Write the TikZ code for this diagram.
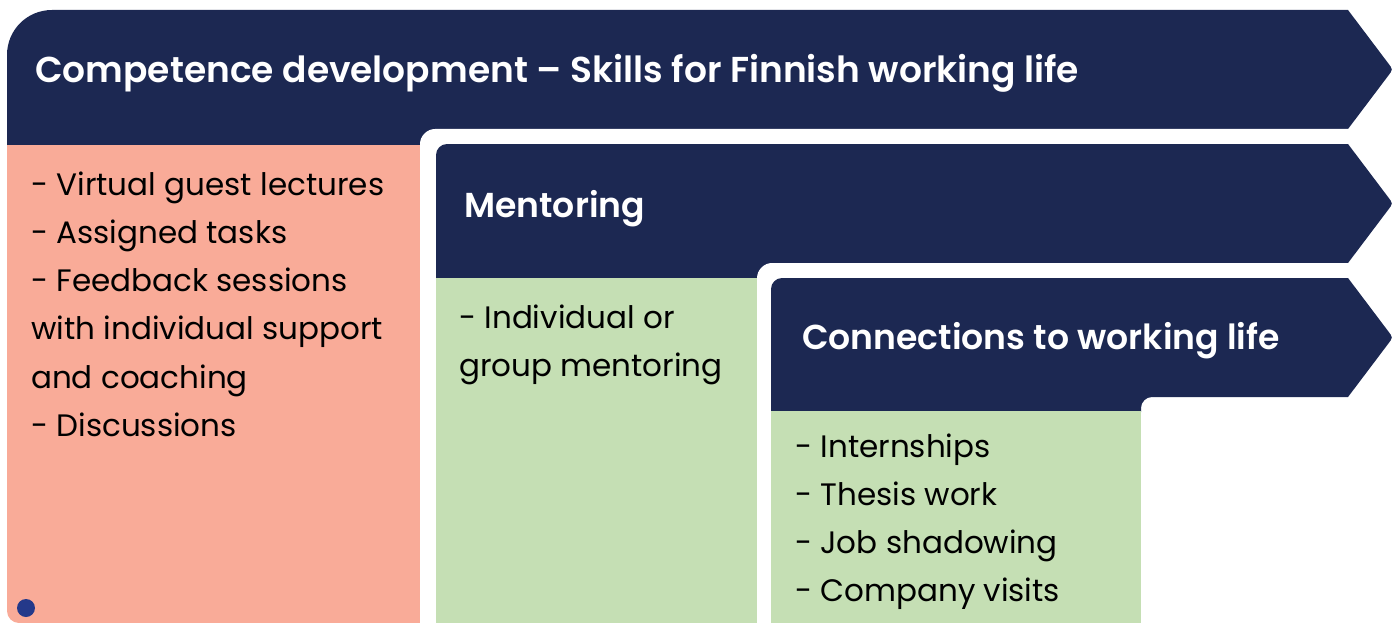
\documentclass[tikz,border=0pt]{standalone}
\usepackage{fontspec}
\setmainfont{Poppins}
\IfFontExistsTF{Poppins SemiBold}{\newfontfamily\headfont{Poppins SemiBold}}{\newcommand\headfont{\bfseries}}
\definecolor{navy}{RGB}{28,40,82}
\definecolor{salmon}{RGB}{249,171,152}
\definecolor{leaf}{RGB}{197,223,180}
\definecolor{dotblue}{RGB}{36,57,138}
\begin{document}
\begin{tikzpicture}[x=1pt,y=-1pt,
  head/.style={anchor=base west, inner sep=0pt, text=white, font=\fontsize{36}{40}\selectfont\headfont},
  subhead/.style={head, font=\fontsize{34.6}{40}\selectfont\headfont},
  body/.style={anchor=base west, inner sep=0pt, align=left, text=black, font=\fontsize{31}{48.3}\selectfont}]
\useasboundingbox (0,0) rectangle (1399,623);
\clip (0,0) rectangle (1399,623);
% layer 1
\fill[navy] (7,146) -- (7,55) .. controls (7,30) and (27,10) .. (52,10) -- (1348,10) -- (1388,63) .. controls (1393,69.5) .. (1388,76) -- (1348,129) -- (1348,146) -- cycle;
\fill[salmon] (7,145) -- (7,611) .. controls (7,617.6) and (12.4,623) .. (19,623) -- (420,623) -- (420,145) -- cycle;
\fill[dotblue] (26,608) circle[radius=9];
% gap 2
\fill[white] (420,640) -- (420,144) .. controls (420,136) and (427,129) .. (435,129) -- (1410,129) -- (1410,640) -- cycle;
% layer 2
\fill[navy] (436,279) -- (436,155) .. controls (436,149) and (441,144) .. (447,144) -- (1348,144) -- (1388,197) .. controls (1393,203.5) .. (1388,210) -- (1348,263) -- (1348,279) -- cycle;
\fill[leaf] (436,278) rectangle (757,640);
% gap 3
\fill[white] (757,640) -- (757,278) .. controls (757,270) and (764,263) .. (772,263) -- (1410,263) -- (1410,640) -- cycle;
% layer 3
\fill[navy] (771,412) -- (771,289) .. controls (771,283) and (776,278) .. (782,278) -- (1348,278) -- (1388,331) .. controls (1393,337.5) .. (1388,344) -- (1348,397) -- (1152,397) .. controls (1146,397) and (1141,402) .. (1141,408) -- (1141,412) -- cycle;
\fill[leaf] (771,411) rectangle (1141,640);
% texts (base anchor = baseline of the last line)
\node[head] (h1) at (35,83) {Competence development – Skills for Finnish working life};
\node[subhead] (h2) at (464,217) {Mentoring};
\node[subhead] (h3) at (802,349) {Connections to working life};
\node[body] (t1) at (31,436.5) {- Virtual guest lectures\\- Assigned tasks\\- Feedback sessions\\with individual support\\and coaching\\- Discussions};
\node[body] (t2) at (459,376.3) {- Individual or\\group mentoring};
\node[body] (t3) at (795,601.9) {- Internships\\- Thesis work\\- Job shadowing\\- Company visits};
\end{tikzpicture}
\end{document}
